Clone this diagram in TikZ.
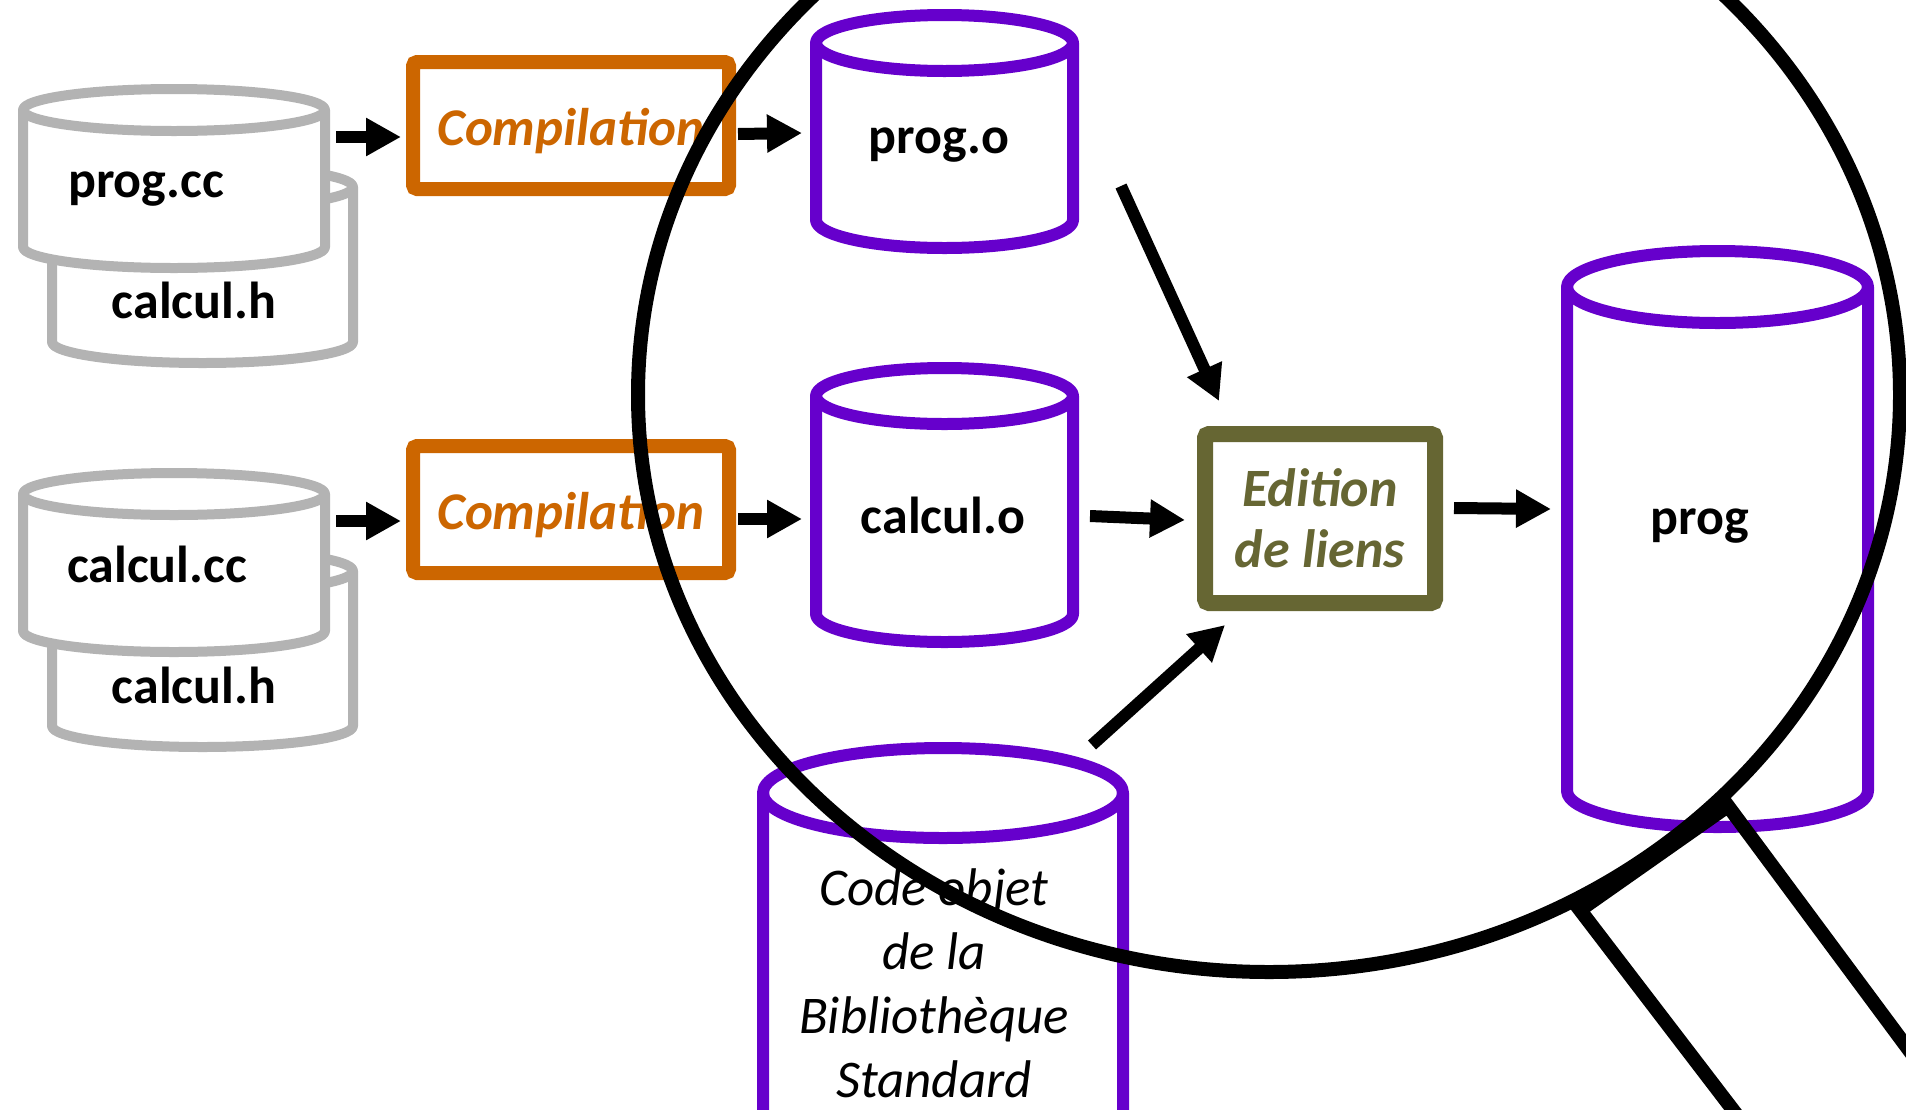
\documentclass[tikz,border=0pt]{standalone}
\usepackage{fontspec}
\setmainfont{Carlito}
\usetikzlibrary{arrows.meta}
\definecolor{cgrey}{HTML}{B3B3B3}
\definecolor{cpurple}{HTML}{6600CC}
\definecolor{corange}{HTML}{CC6600}
\definecolor{colive}{HTML}{666633}

% name, x1, x2, ytop, ybot, ry, style
\newcommand\mycyl[7]{%
 \pgfmathsetmacro\mycylrx{(#3-#2)/2}%
 \pgfmathsetmacro\mycylw{#3-#2}%
 \pgfmathsetmacro\mycylh{#5-#4+2*#6}%
 \pgfmathsetmacro\mycylcx{(#2+#3)/2}%
 \pgfmathsetmacro\mycylcy{(#4+#5)/2}%
 \path[#7,fill=white] (#2,#4) -- (#2,#5) arc[start angle=180,end angle=360,x radius=\mycylrx pt,y radius=#6pt] -- (#3,#4) arc[start angle=0,end angle=180,x radius=\mycylrx pt,y radius=#6pt] -- cycle;
 \path[#7] (#2,#4) arc[start angle=180,end angle=360,x radius=\mycylrx pt,y radius=#6pt];
 \node[inner sep=0pt,outer sep=0pt,minimum width=\mycylw pt,minimum height=\mycylh pt] (#1) at (\mycylcx,\mycylcy) {};
}

\tikzset{
 gcyl/.style={draw=cgrey,line width=10pt,line join=round},
 pcyl/.style={draw=cpurple,line width=12pt,line join=round},
 fname/.style={font=\fontsize{52}{62}\selectfont\bfseries,inner sep=0pt,anchor=base},
 proc/.style={draw=#1,line width=14pt,rounded corners=4pt,fill=white,text=#1,inner sep=0pt,
   minimum width=316pt,minimum height=127pt,text height=45pt,text depth=6pt,
   font=\fontsize{53}{64}\selectfont\bfseries\itshape},
 arr/.style={line width=12pt,-{Triangle[length=35pt,width=36pt]}},
 lens/.style={line width=14pt,draw=black},
}

\begin{document}
\begin{tikzpicture}[x=1pt,y=-1pt]
\useasboundingbox (0,0) rectangle (1906,1109);
\clip (0,0) rectangle (1906,1109);

% source stacks
\mycyl{s1b}{52}{353}{187}{342}{21}{gcyl}
\mycyl{s1f}{23}{325}{110}{247}{21}{gcyl}
\mycyl{s2b}{52}{353}{571}{726}{21}{gcyl}
\mycyl{s2f}{23}{325}{494}{631}{21}{gcyl}
\node[fname] (tprogcc) at (146,197) {prog.cc};
\node[fname] (tcalculh1) at (194,318) {calcul.h};
\node[fname] (tcalculcc) at (157,582) {calcul.cc};
\node[fname] (tcalculh2) at (194,703) {calcul.h};

% compilation
\node[proc=corange] (comp1) at (571,125.5) {Compilation};
\node[proc=corange] (comp2) at (571,509.5) {Compilation};

% object files
\mycyl{progo}{816}{1073}{43}{220}{28}{pcyl}
\mycyl{calculo}{816}{1073}{396}{614}{28}{pcyl}
\mycyl{biblio}{763}{1123}{793}{1400}{45}{pcyl}
\mycyl{prog}{1567}{1868}{287}{791}{36}{pcyl}
\node[fname] (tprogo) at (939,153) {prog.o};
\node[fname] (tcalculo) at (943,533) {calcul.o};
\node[fname] (tprog) at (1700,534) {prog};
\node[anchor=north,align=center,inner sep=0pt,font=\fontsize{53}{64}\selectfont\itshape] (tbiblio) at (934,868)
  {Code objet\\de la\\Bibliothèque\\Standard};

% link edition
\node[draw=colive,line width=16pt,rounded corners=4pt,fill=white,text=colive,inner sep=0pt,
  minimum width=230pt,minimum height=169pt,align=center,
  font=\fontsize{54}{61}\selectfont\bfseries\itshape] (edit) at (1320,518.5) {Edition\\de liens};

% connectors
\draw[arr] ([xshift=11pt,yshift=41.5pt]s1f.east) -- ([xshift=-5pt,yshift=-11.5pt]comp1.west);
\draw[arr] ([xshift=11pt,yshift=41.5pt]s2f.east) -- ([xshift=-5pt,yshift=-11.5pt]comp2.west);
\draw[arr] ([xshift=2pt,yshift=-8.5pt]comp1.east) -- ([xshift=-14pt,yshift=-1.5pt]progo.west);
\draw[arr] ([xshift=2pt,yshift=-9.5pt]comp2.east) -- ([xshift=-14pt,yshift=-14pt]calculo.west);
\draw[arr] ([xshift=48pt,yshift=-54.5pt]progo.east) -- ([xshift=22pt,yshift=25pt]edit.north west);
\draw[arr] ([xshift=17pt,yshift=-11pt]calculo.east) -- ([xshift=-12pt,yshift=-1.5pt]edit.west);
\draw[arr] ([xshift=-31pt,yshift=3pt]biblio.north east) -- ([xshift=28pt,yshift=-14pt]edit.south west);
\draw[arr] ([xshift=11pt,yshift=10.5pt]edit.east) -- ([xshift=-16pt,yshift=30pt]prog.west);

% magnifying glass
\draw[lens] (1269,395) ellipse[x radius=631pt,y radius=577pt];
\draw[lens] (1995,1166) -- (1728,806) -- (1580,910) -- (1808,1208);
\end{tikzpicture}
\end{document}
